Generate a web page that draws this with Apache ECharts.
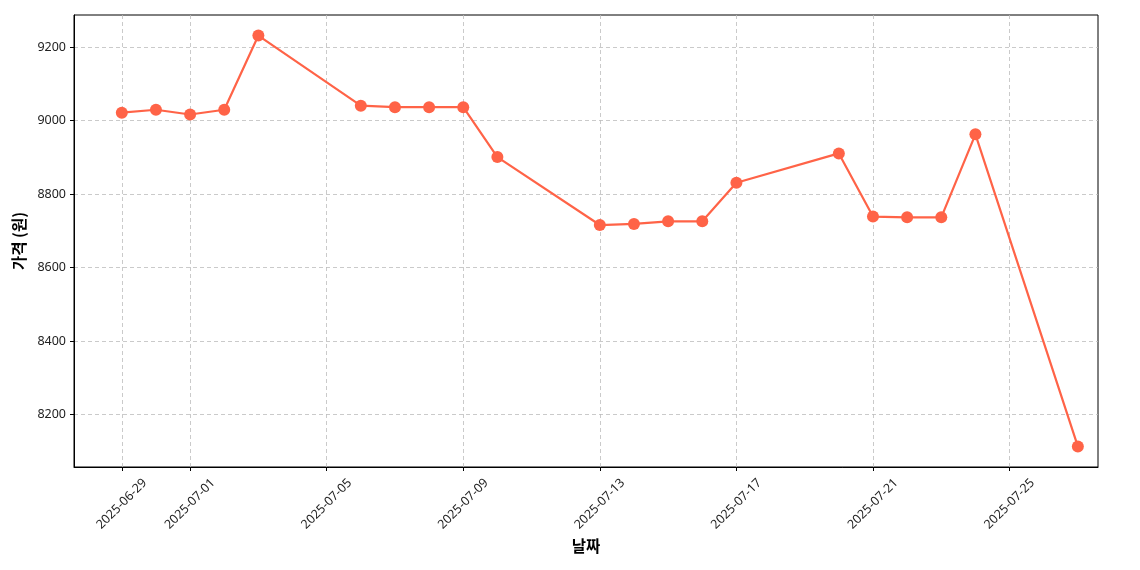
<!DOCTYPE html>
<html><head><meta charset="utf-8">
<script src="https://cdn.jsdelivr.net/npm/echarts@6/dist/echarts.min.js"></script>
<style>html,body{margin:0;padding:0;background:#fff}#c{width:1140px;height:570px}</style>
</head><body><div id="c"></div>
<script>
const dates = ['2025-06-29','2025-06-30','2025-07-01','2025-07-02','2025-07-03','2025-07-06','2025-07-07','2025-07-08','2025-07-09','2025-07-10','2025-07-13','2025-07-14','2025-07-15','2025-07-16','2025-07-17','2025-07-20','2025-07-21','2025-07-22','2025-07-23','2025-07-24','2025-07-27'];
const prices = [9022,9030,9017,9030,9232,9041,9037,9037,9037,8901,8716,8719,8726,8726,8831,8911,8739,8737,8737,8963,8113];
const xTickDates = ['2025-06-29','2025-07-01','2025-07-05','2025-07-09','2025-07-13','2025-07-17','2025-07-21','2025-07-25'];
const yTicks = [8200,8400,8600,8800,9000,9200];

const DAY = 86400000;
const ts = s => { const [y,m,d] = s.split('-').map(Number); return Date.UTC(y, m-1, d); };
const x0 = ts(dates[0]), x1 = ts(dates[dates.length-1]);
const ymin = Math.min(...prices), ymax = Math.max(...prices);
const ym = (ymax - ymin) * 0.05;
const font = '"Noto Sans CJK KR", "Noto Sans", sans-serif';
const tickFont = '"Noto Sans", "Noto Sans CJK KR", sans-serif';
const xTicks = xTickDates.map(ts);
const pad = n => String(n).padStart(2,'0');
const fmt = v => { const d = new Date(v); return d.getUTCFullYear()+'-'+pad(d.getUTCMonth()+1)+'-'+pad(d.getUTCDate()); };

const chart = echarts.init(document.getElementById('c'), null, {renderer:'canvas'});
chart.setOption({
  animation: false,
  grid: {left: 74, right: 42, top: 15, bottom: 103, outerBoundsMode: 'none', containLabel: false, show: true, borderColor: '#000', borderWidth: 1, backgroundColor: 'transparent'},
  xAxis: {
    type: 'value', min: x0 - 1.4 * DAY, max: x1 + 0.59 * DAY,
    name: '날짜', nameLocation: 'middle', nameGap: 71,
    nameTextStyle: {fontFamily: font, fontSize: 15.5, fontWeight: 'bold', color: '#000'},
    axisLine: {lineStyle: {color: '#000', width: 1}},
    axisTick: {show: true, inside: false, length: 4, lineStyle: {color: '#000'}, customValues: xTicks},
    axisLabel: {customValues: xTicks, rotate: 45, align: 'center', verticalAlign: 'middle', fontFamily: tickFont, fontSize: 12.5, color: '#222', margin: 37, formatter: v => fmt(v), hideOverlap: false},
    splitLine: {show: true, lineStyle: {color: '#bdbdbd', type: [4, 3], width: 0.8}}
  },
  yAxis: {
    type: 'value', min: ymin - ym, max: ymax + ym,
    name: '가격 (원)', nameLocation: 'middle', nameGap: 45,
    nameTextStyle: {fontFamily: font, fontSize: 15.5, fontWeight: 'bold', color: '#000'},
    axisLine: {show: true, lineStyle: {color: '#000', width: 1}},
    axisTick: {show: true, length: 4, lineStyle: {color: '#000'}, customValues: yTicks},
    axisLabel: {customValues: yTicks, fontFamily: tickFont, fontSize: 12.5, color: '#222', margin: 8, formatter: v => String(v)},
    splitLine: {show: true, lineStyle: {color: '#bdbdbd', type: [4, 3], width: 0.8}}
  },
  series: [{
    type: 'line',
    data: dates.map((d, i) => [ts(d), prices[i]]),
    symbol: 'circle', symbolSize: 12,
    lineStyle: {color: '#FF6347', width: 2.2},
    itemStyle: {color: '#FF6347'}
  }]
});
</script></body></html>
